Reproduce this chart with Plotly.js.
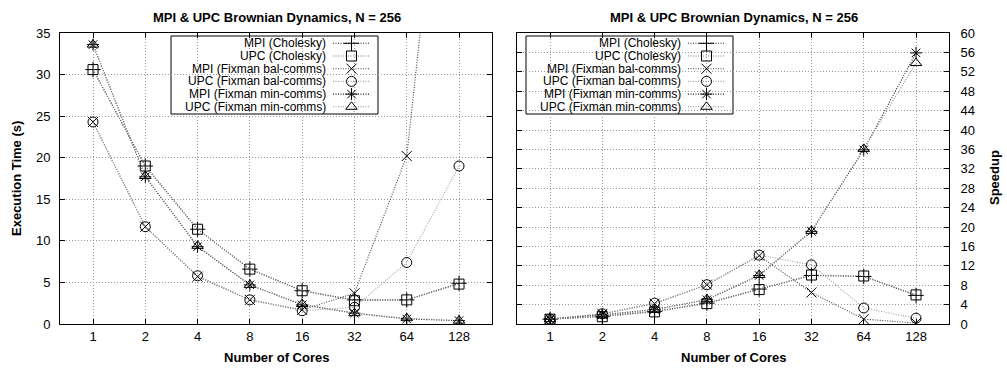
<!DOCTYPE html>
<html><head><meta charset="utf-8">
<script src="https://cdn.plot.ly/plotly-3.0.1.min.js"></script>
<style>html,body{margin:0;padding:0;background:#fff}</style>
</head><body><div id="chart" style="width:1007px;height:370px"></div>
<script>
// ---- data ----
const cores = [1, 2, 4, 8, 16, 32, 64, 128];
const coreLabels = ["1", "2", "4", "8", "16", "32", "64", "128"];
const seriesNames = ["MPI (Cholesky)", "UPC (Cholesky)", "MPI (Fixman bal-comms)",
  "UPC (Fixman bal-comms)", "MPI (Fixman min-comms)", "UPC (Fixman min-comms)"];
const timeMpiChol = [30.6, 19.0, 11.4, 6.6, 4.0, 2.9, 2.9, 4.9];
const timeUpcChol = [30.6, 19.0, 11.4, 6.6, 4.0, 2.8, 2.9, 4.8];
const timeMpiBal  = [24.3, 11.7, 5.7, 2.9, 1.7, 3.7, 20.2, 78];
const timeUpcBal  = [24.3, 11.7, 5.8, 2.9, 1.6, 2.0, 7.4, 19.0];
const timeMpiMin  = [33.6, 17.7, 9.3, 4.7, 2.3, 1.3, 0.6, 0.4];
const timeUpcMin  = [33.6, 17.8, 9.4, 4.7, 2.4, 1.3, 0.7, 0.4];
const speedMpiChol = [1, 1.6, 2.6, 4.3, 7.2, 10.0, 9.8, 5.9];
const speedUpcChol = [1, 1.5, 2.5, 4.2, 7.1, 10.1, 9.9, 6.0];
const speedMpiBal  = [1, 2.1, 4.2, 8.1, 14.1, 6.5, 1.0, 0.2];
const speedUpcBal  = [1, 2.1, 4.3, 8.1, 14.2, 12.2, 3.3, 1.2];
const speedMpiMin  = [1, 1.9, 3.0, 5.0, 10.0, 19.1, 35.9, 55.9];
const speedUpcMin  = [1, 1.8, 2.9, 5.1, 10.1, 19.2, 36.1, 53.8];
const mainTitle = "MPI & UPC Brownian Dynamics, N = 256";
const xTitle = "Number of Cores";
const yTitleLeft = "Execution Time (s)";
const yTitleRight = "Speedup";

// ---- styles ----
const W = 1007, H = 370;
const px = p => p / W, py = p => (H - p) / H;
const FONT = "Liberation Sans, Arial, Helvetica, sans-serif";
const styles = [
  {symbol: "cross-thin-open", size: 11, color: "#222222"},
  {symbol: "square-open", size: 10, color: "#808080"},
  {symbol: "x-thin-open", size: 10, color: "#444444"},
  {symbol: "circle-open", size: 10, color: "#a0a0a0"},
  {symbol: "asterisk-open", size: 10, color: "#222222"},
  {symbol: "triangle-up-open", size: 10, color: "#909090"}
];
const LINE_DASH = "1px,1.5px";
const timeData = [timeMpiChol, timeUpcChol, timeMpiBal, timeUpcBal, timeMpiMin, timeUpcMin];
const speedData = [speedMpiChol, speedUpcChol, speedMpiBal, speedUpcBal, speedMpiMin, speedUpcMin];

function mk(st) {
  return {symbol: st.symbol, size: st.size, color: "#000", line: {color: "#000", width: 1}};
}
const traces = [];
timeData.forEach((d, i) => traces.push({
  type: "scatter", mode: "lines+markers", x: cores, y: d, name: seriesNames[i],
  xaxis: "x", yaxis: "y", showlegend: false, cliponaxis: true,
  line: {color: styles[i].color, width: 1.1, dash: LINE_DASH}, marker: mk(styles[i])
}));
speedData.forEach((d, i) => traces.push({
  type: "scatter", mode: "lines+markers", x: cores, y: d, name: seriesNames[i],
  xaxis: "x2", yaxis: "y2", showlegend: false, cliponaxis: true,
  line: {color: styles[i].color, width: 1.1, dash: LINE_DASH}, marker: mk(styles[i])
}));

// ---- custom legends (text left, sample right, as in the original) ----
const LW = 207, LH = 78, rowY0 = 7.3, rowStep = 12.7, textEnd = 156;
const legBoxes = [{left: 171, top: 36, xa: "x3", ya: "y3"}, {left: 526, top: 36, xa: "x4", ya: "y4"}];
const annotations = [];
const shapes = [];
legBoxes.forEach(b => {
  seriesNames.forEach((nm, i) => {
    const yy = rowY0 + i * rowStep;
    traces.push({type: "scatter", mode: "lines", x: [textEnd + 6, LW - 8], y: [yy, yy],
      xaxis: b.xa, yaxis: b.ya, showlegend: false, hoverinfo: "skip",
      line: {color: styles[i].color, width: 1.1, dash: LINE_DASH}});
    traces.push({type: "scatter", mode: "markers", x: [(textEnd + 6 + LW - 8) / 2], y: [yy],
      xaxis: b.xa, yaxis: b.ya, showlegend: false, hoverinfo: "skip", cliponaxis: false,
      marker: mk(styles[i])});
    annotations.push({xref: b.xa, yref: b.ya, x: textEnd, y: yy, text: nm, showarrow: false,
      xanchor: "right", yanchor: "middle", borderpad: 0, font: {family: FONT, size: 12, color: "#000"}});
  });
  shapes.push({type: "rect", xref: "paper", yref: "paper", x0: px(b.left), x1: px(b.left + LW),
    y0: py(b.top + LH), y1: py(b.top), line: {color: "#000", width: 1}, fillcolor: "#fff", layer: "below"});
});

// ---- titles ----
const tfont = {family: FONT, size: 13, color: "#000", weight: "bold"};
annotations.push({xref: "paper", yref: "paper", x: px(277), y: py(18), text: "<b>" + mainTitle + "</b>",
  showarrow: false, xanchor: "center", yanchor: "middle", font: tfont});
annotations.push({xref: "paper", yref: "paper", x: px(734), y: py(18), text: "<b>" + mainTitle + "</b>",
  showarrow: false, xanchor: "center", yanchor: "middle", font: tfont});
annotations.push({xref: "paper", yref: "paper", x: px(276), y: py(357), text: "<b>" + xTitle + "</b>",
  showarrow: false, xanchor: "center", yanchor: "middle", font: tfont});
annotations.push({xref: "paper", yref: "paper", x: px(733), y: py(357), text: "<b>" + xTitle + "</b>",
  showarrow: false, xanchor: "center", yanchor: "middle", font: tfont});
annotations.push({xref: "paper", yref: "paper", x: px(16), y: py(179), text: "<b>" + yTitleLeft + "</b>",
  showarrow: false, xanchor: "center", yanchor: "middle", textangle: -90, font: tfont});
annotations.push({xref: "paper", yref: "paper", x: px(994), y: py(178), text: "<b>" + yTitleRight + "</b>",
  showarrow: false, xanchor: "center", yanchor: "middle", textangle: -90, font: tfont});

// ---- axes ----
const tickfont = {family: FONT, size: 13, color: "#000"};
const common = {showline: true, linecolor: "#000", linewidth: 1, mirror: "allticks", ticks: "inside",
  ticklen: 5, tickcolor: "#000", showgrid: true, gridcolor: "#999", griddash: "1px,2px", gridwidth: 1,
  zeroline: false, tickfont: tickfont, fixedrange: true, automargin: false};
const xcommon = Object.assign({}, common, {type: "log", range: [-0.19, 2.297], tickmode: "array",
  tickvals: cores, ticktext: coreLabels, ticklabelstandoff: 0});
const yDom = [py(324), py(33)];
const hidden = {visible: false, fixedrange: true};

const layout = {
  width: W, height: H, margin: {l: 0, r: 0, t: 0, b: 0}, paper_bgcolor: "#fff", plot_bgcolor: "rgba(0,0,0,0)",
  showlegend: false, font: {family: FONT, color: "#000"},
  xaxis: Object.assign({}, xcommon, {domain: [px(60), px(492)], anchor: "y"}),
  yaxis: Object.assign({}, common, {domain: yDom, anchor: "x", range: [0, 35], tick0: 0, dtick: 5,
    ticklabelstandoff: 6}),
  xaxis2: Object.assign({}, xcommon, {domain: [px(517), px(949)], anchor: "y2"}),
  yaxis2: Object.assign({}, common, {domain: yDom, anchor: "x2", side: "right", range: [0, 60], tick0: 0,
    dtick: 4, ticklabelstandoff: 8}),
  xaxis3: Object.assign({}, hidden, {domain: [px(171), px(171 + LW)], anchor: "y3", range: [0, LW]}),
  yaxis3: Object.assign({}, hidden, {domain: [py(36 + LH), py(36)], anchor: "x3", range: [LH, 0]}),
  xaxis4: Object.assign({}, hidden, {domain: [px(526), px(526 + LW)], anchor: "y4", range: [0, LW]}),
  yaxis4: Object.assign({}, hidden, {domain: [py(36 + LH), py(36)], anchor: "x4", range: [LH, 0]}),
  annotations: annotations, shapes: shapes
};
Plotly.newPlot("chart", traces, layout, {staticPlot: true, displayModeBar: false});
</script>
</body></html>
